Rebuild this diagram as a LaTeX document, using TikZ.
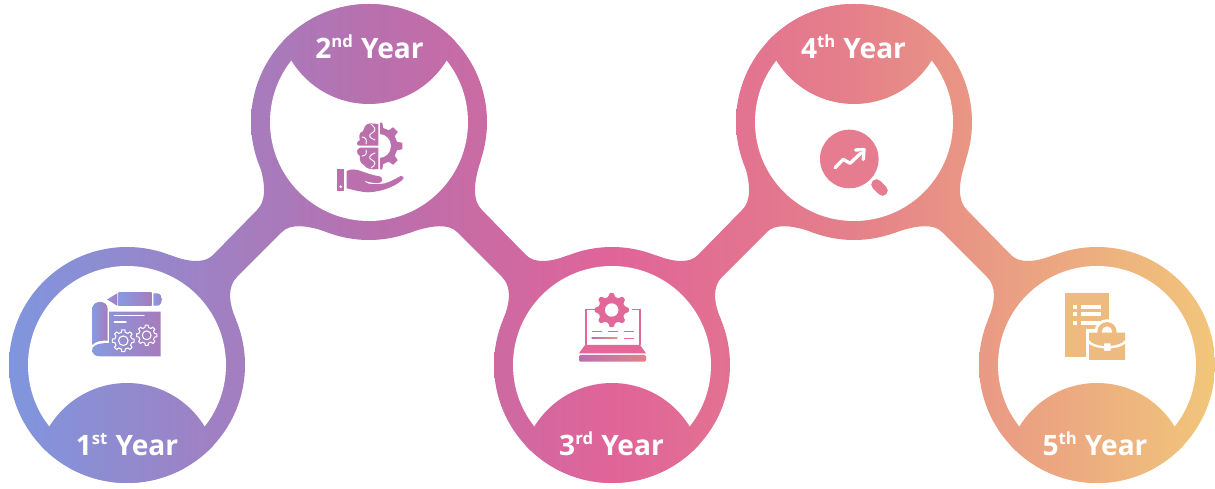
\documentclass[tikz,border=0pt]{standalone}
\usepackage{fontspec}
\setmainfont{Open Sans}
\definecolor{bandblue}{RGB}{127,150,222}
\definecolor{bandviolet}{RGB}{184,112,174}
\definecolor{bandpink}{RGB}{224,100,152}
\definecolor{bandrose}{RGB}{229,128,138}
\definecolor{bandsand}{RGB}{241,198,122}
\definecolor{icontwo}{RGB}{188,111,173}
\definecolor{iconthree}{RGB}{226,104,154}
\definecolor{iconfour}{RGB}{229,124,143}
\definecolor{iconfive}{RGB}{237,186,127}
\pgfdeclarehorizontalshading{yearband}{100bp}{color(0bp)=(bandblue); color(25bp)=(bandblue); color(40bp)=(bandviolet); color(50bp)=(bandpink); color(60bp)=(bandrose); color(75bp)=(bandsand); color(100bp)=(bandsand)}
\tikzset
{
    yearlabel/.style = {text=white, font=\fontsize{16}{18}\selectfont\bfseries, anchor=base, inner sep=0pt},
    iconone/.style   = {left color=bandblue!95!white, right color=bandviolet!70!bandblue},
    whiteline/.style = {draw=white, line width=0.8pt, line cap=round, line join=round},
    brainline/.style = {draw=white, line width=0.55pt, line cap=round, line join=round},
    whitegear/.style = {draw=white, line width=0.6pt, line join=round}
}
\newcommand{\yearshade}{\shade[shading=yearband] (9,0) rectangle (1215,489);}
\newcommand{\yearsup}[1]{\textsuperscript{\fontsize{9.5}{10}\selectfont #1}}
% tip radius, root radius around a centre
\newcommand{\yeargear}[4]{%
  \path[#4,shift={(#1)}] (-13:#3) \foreach \a in {0,45,...,315} {-- (\a-13:#3) -- (\a-8:#2) -- (\a+8:#2) -- (\a+13:#3)} -- cycle;}
\begin{document}
\begin{tikzpicture}[x=0.02cm,y=-0.02cm]
    \useasboundingbox (0,0) rectangle (1215,489);
    % rings
    \foreach \cx/\cy in {127/365,369/122,612/365,854/122,1097/365}
    {
      \begin{scope}
        \clip (\cx,\cy) circle (118);
        \yearshade
      \end{scope}
    }
    % links between the rings
    \foreach \a/\s in {0/1,739/-1,485/1,1224/-1}
    {
      \begin{scope}
        \clip ({\a+\s*170},255) .. controls ({\a+\s*190.5},263) and ({\a+\s*205},263) .. ({\a+\s*213},255)
          -- ({\a+\s*257},210) .. controls ({\a+\s*266},201.3) and ({\a+\s*266.4},184.7) .. ({\a+\s*258},160)
          -- ({\a+\s*330},233) .. controls ({\a+\s*305.8},224.3) and ({\a+\s*289.8},224) .. ({\a+\s*282},232)
          -- ({\a+\s*237},277) .. controls ({\a+\s*228},286) and ({\a+\s*227.9},300.3) .. ({\a+\s*236},320) -- cycle;
        \yearshade
      \end{scope}
    }
    % inner discs and caps
    \foreach \cx/\cy/\capy in {127/365/474,369/122/13,612/365/474,854/122/13,1097/365/474}
    {
      \fill[white] (\cx,\cy) circle (99);
      \begin{scope}
        \clip (\cx,\cy) circle (118);
        \clip (\cx,\capy) circle (91);
        \yearshade
      \end{scope}
    }
    \node [yearlabel] (year1) at (127,456) {1\yearsup{st} Year};
    \node [yearlabel] (year2) at (369.5,59) {2\yearsup{nd} Year};
    \node [yearlabel] (year3) at (611.5,456) {3\yearsup{rd} Year};
    \node [yearlabel] (year4) at (853.5,59) {4\yearsup{th} Year};
    \node [yearlabel] (year5) at (1095,456) {5\yearsup{th} Year};
    % first year: plan and pencil
    \path[iconone] (107,299.5) -- (117.3,293.3) -- (117.3,305.7) -- cycle;
    \path[iconone] (118.3,292.7) rectangle (151.7,305.7);
    \path[iconone] (153.3,293.3) -- (157,293.3) .. controls (163.5,293.3) and (163.5,305.7) .. (157,305.7) -- (153.3,305.7) -- cycle;
    \path[iconone] (92.3,345) -- (92.3,309) .. controls (92.3,299.5) and (107.7,299.5) .. (107.7,309)
      -- (107.7,340.5) .. controls (103,340.5) and (95,341) .. (92.3,345) -- cycle;
    \path[iconone] (109,311.7) -- (160.7,311.7) -- (160.7,356.3) -- (100,356.3) .. controls (90,356.3) and (90,347) .. (96,345)
      .. controls (99,343.5) and (104,343) .. (109,343) -- cycle;
    \draw[whiteline] (114.3,315.3) -- (144,315.3);
    \draw[whiteline] (114.3,322) -- (126,322);
    \yeargear{123.3,340.7}{11}{8.6}{whitegear}
    \draw[whitegear] (123.3,340.7) circle (4.8);
    \yeargear{146.7,335.3}{10.2}{8}{whitegear}
    \draw[whitegear] (146.7,335.3) circle (4.4);
    % second year: brain, gear and hand
    \begin{scope}
      \clip (380,100) rectangle (420,190);
      \yeargear{379,146}{23.5}{18.5}{fill=icontwo}
    \end{scope}
    \fill[white] (379,146) circle (12);
    \fill[icontwo] (378.3,124) -- (370,123.3) .. controls (365,124) and (364,128) .. (363,131)
      .. controls (358,133) and (359,138) .. (360,140) .. controls (356,142) and (356,145.7) .. (360,145.7) -- (378.3,145.7) -- cycle;
    \fill[icontwo] (378.3,147.7) -- (360,147.7) .. controls (356,149) and (356,154) .. (360,156)
      .. controls (359,160) and (361,164) .. (364,165) .. controls (366,169) and (372,170) .. (378.3,169) -- cycle;
    \draw[brainline] (371,124) .. controls (376,128) and (376,131) .. (372,133) .. controls (368,135) and (369,138) .. (375,140);
    \draw[brainline] (362,137) .. controls (366,137) and (367,140) .. (366,144);
    \draw[brainline] (375,153) .. controls (369,155) and (368,158) .. (372,160) .. controls (376,162) and (376,165) .. (371,168);
    \draw[brainline] (362,156) .. controls (366,156) and (367,153) .. (366,150);
    \fill[icontwo] (336.7,169.3) rectangle (344.3,191);
    \fill[white] (340.7,186.7) circle (1.4);
    \fill[icontwo] (346.7,171) .. controls (351,168.5) and (356,169.5) .. (360,170.7) .. controls (366,173) and (374,175.5) .. (380,176.5)
      .. controls (383,177.5) and (383,182.5) .. (379,183) .. controls (374,183.5) and (368,182) .. (363.5,180.5)
      .. controls (366,184.5) and (376,185) .. (385,183.3) .. controls (391,181.5) and (396,178.5) .. (400.7,176)
      .. controls (403,175.5) and (404.5,177.5) .. (403.3,179) .. controls (397,185) and (385,191.5) .. (368,192.3)
      .. controls (360,192) and (352,189.5) .. (346.7,188.3) -- cycle;
    % third year: laptop and gear
    \yeargear{611.7,310}{17.3}{13.5}{fill=iconthree,rounded corners=0.7pt}
    \fill[white] (611.7,310) circle (6.7);
    \draw[iconthree,line width=0.9pt] (595,309.3) -- (586,309.3) -- (586,345);
    \draw[iconthree,line width=0.9pt] (631.5,309.3) -- (640,309.3) -- (640,345);
    \foreach \xa/\xb in {591.7/601.7,607.7/617.7,624/634}
      \draw[iconthree,line width=0.9pt] (\xa,331.7) -- (\xb,331.7);
    \shade[left color=bandviolet,middle color=iconthree,right color=bandrose!70!bandsand] (591.7,337.6) rectangle (617.3,339);
    \draw[iconthree,line width=0.9pt] (624,338.3) -- (634,338.3);
    \fill[iconthree] (585,345) -- (640,345) -- (646,353.3) -- (579,353.3) -- cycle;
    \shade[left color=bandviolet,middle color=iconthree,right color=bandrose,rounded corners=0.8pt] (579,355) rectangle (646,361.7);
    % fourth year: magnifier and rising arrow
    \fill[iconfour] (849.3,159) circle (29.3);
    \draw[iconfour,line width=6pt,line cap=round] (876.5,184.5) -- (882.5,190.5);
    \draw[white,line width=1.9pt,line cap=round,line join=round] (835,167.7) -- (843.3,159.3) -- (850,163.3) -- (861,153);
    \draw[white,line width=1.9pt,line cap=round,line join=round] (855.5,150) -- (864,149.5) -- (863.3,159.5);
    % fifth year: document and briefcase
    \fill[iconfive] (1065,292.7) rectangle (1109,356.7);
    \foreach \y in {305,312.3,320.7}
    {
      \fill[white] (1073.3,\y) rectangle (1077.3,\y+4);
      \fill[white] (1081,\y) rectangle (1101,\y+4);
    }
    \fill[white] (1085.5,329) rectangle (1128,364);
    \fill[white] (1107,331.7) circle (12.5);
    \fill[iconfive] (1107,331.7) circle (9.6);
    \fill[white] (1107,331.7) circle (5.3);
    \fill[iconfive] (1089,332.7) -- (1125,332.7) -- (1125,340) .. controls (1122,344) and (1115,345.5) .. (1110.5,346)
      -- (1110.5,343.5) -- (1104,343.5) -- (1104,346) .. controls (1098,345.5) and (1092,344) .. (1089,340) -- cycle;
    \fill[iconfive] (1089,344) .. controls (1093,347) and (1099,348) .. (1104,348.5) -- (1104,351) -- (1110.5,351) -- (1110.5,348.5)
      .. controls (1116,348) and (1121,347) .. (1125,344) -- (1125,360) -- (1089,360) -- cycle;
\end{tikzpicture}
\end{document}
